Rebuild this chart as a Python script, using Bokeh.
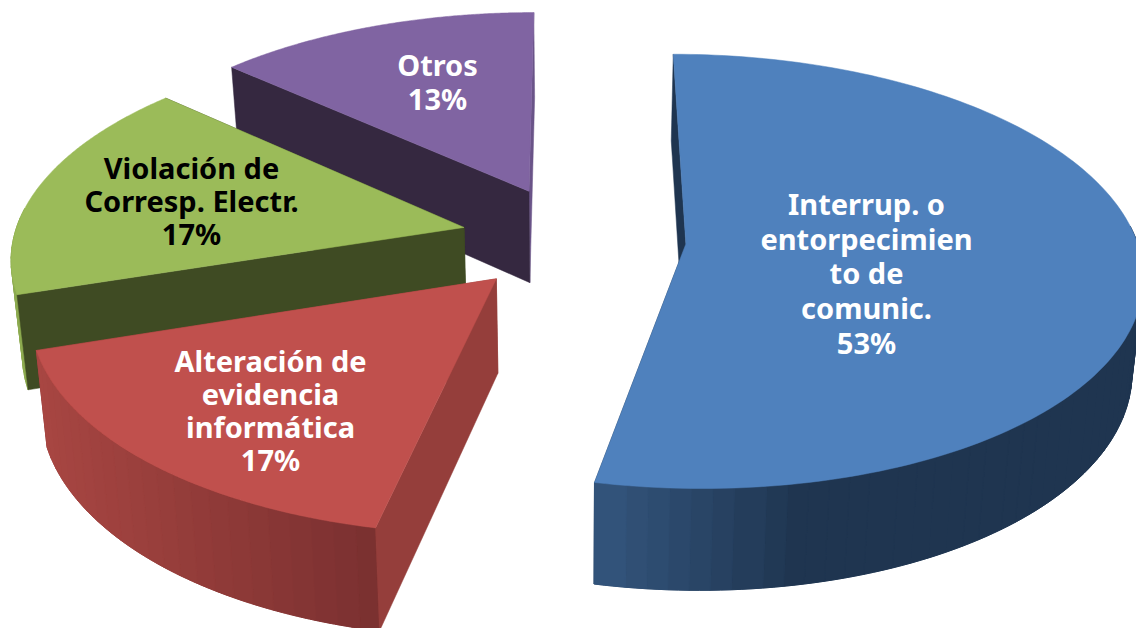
import numpy as np
from bokeh.plotting import figure
from bokeh.embed import file_html
from bokeh.resources import INLINE
from bokeh.core.properties import value

# --- data ---
categories = ["Interrup. o entorpecimiento de comunic.", "Alteración de evidencia informática",
              "Violación de Corresp. Electr.", "Otros"]
values = [16, 5, 5, 4]   # read as counts: 53%, 17%, 17%, 13%
label_lines = [["Interrup. o", "entorpecimien", "to de", "comunic."],
               ["Alteración de", "evidencia", "informática"],
               ["Violación de", "Corresp. Electr."],
               ["Otros"]]

# --- style ---
top_colors = ["#4F81BD", "#C0504D", "#9BBB59", "#8064A2"]
wall_colors = ["#1F3550", "#953E3B", "#3F4B23", "#352840"]
end_wall_colors = ["#1F3550", "#953E3B", "#3F4B23", "#6A5488"]
rim_left = ["#34567E", "#A84642", "#8DAB50", "#6A5488"]
rim_right = ["#1F3550", "#7A3030", "#8DAB50", "#6A5488"]
rim_full_x = [800, 374, 30, 535]
label_colors = ["white", "white", "black", "white"]
label_x = [866, 270, 191, 437]
label_y0 = [203, 360, 167, 64]
line_step = [34.7, 33, 33, 34]
FONT_PX = 29
FONT = "Noto Sans"
STRIPS = 70

# --- projection of a tilted exploded pie onto the picture ---
CX, YV = 573.0, -1449.0
A, C, V0 = 0.267, 7.46e-5, 5.928e-4
EXPLODE = 0.25
SHRINK, D0, D1 = 0.98, 34.0, 0.035


def project(X, Y, bottom=False):
    u = 1.0 / (V0 - C * np.asarray(Y))
    x = CX + A * np.asarray(X) * u
    y = YV + u
    if bottom:
        x = CX + SHRINK * (x - CX)
        y = y + D0 + D1 * u
    return x, y


def hex2rgb(h):
    return np.array([int(h[i:i + 2], 16) for i in (1, 3, 5)], float)


def lerp(c1, c2, t):
    c = hex2rgb(c1) * (1 - t) + hex2rgb(c2) * t
    return "#%02x%02x%02x" % tuple(int(round(v)) for v in c)


p = figure(width=1136, height=628, x_range=(0, 1136), y_range=(628, 0),
           output_backend="svg", toolbar_location=None, min_border=0)
p.axis.visible = False
p.grid.visible = False
p.outline_line_color = None
p.background_fill_color = "white"
p.border_fill_color = "white"

fracs = np.array(values, float) / sum(values)
edges = np.concatenate([[0], np.cumsum(fracs)]) * 2 * np.pi
order = [3, 2, 1, 0]


def radial_wall(i, t, col, ex, ey):
    rx, ry = np.array([ex, ex + np.sin(t)]), np.array([ey, ey - np.cos(t)])
    xa, ya = project(rx, ry)
    xb, yb = project(rx, ry, True)
    p.patch(list(xa) + list(xb[::-1]), list(ya) + list(yb[::-1]),
            fill_color=col, line_color=col, line_width=0.5)


for i in order:
    t0, t1 = edges[i], edges[i + 1]
    mid = (t0 + t1) / 2
    ex, ey = EXPLODE * np.sin(mid), -EXPLODE * np.cos(mid)
    th = np.linspace(t0, t1, 161)
    X = ex + np.sin(th)
    Y = ey - np.cos(th)
    radial_wall(i, t1, end_wall_colors[i], ex, ey)
    # outer rim: a base shape under shaded strips
    xt, yt = project(X, Y)
    xb, yb = project(X, Y, True)
    xmin = xt.min()
    vis = np.where(Y >= ey - 0.05)[0]
    if len(vis):
        a0, b0 = vis[0], vis[-1] + 1
        base = lerp(rim_left[i], rim_right[i], 0.5)
        p.patch(list(xt[a0:b0]) + list(xb[a0:b0][::-1]), list(yt[a0:b0]) + list(yb[a0:b0][::-1]),
                fill_color=base, line_color=base, line_width=0.5)
    n = max(4, int(STRIPS * (t1 - t0) / np.pi))
    idx = np.linspace(0, len(th) - 1, n + 1).astype(int)
    xs, ys, cols = [], [], []
    for a, b in zip(idx[:-1], idx[1:]):
        if Y[b] < ey - 0.05 and Y[a] < ey - 0.05:
            continue
        xm = (xt[a] + xt[b]) / 2
        f = np.clip((xm - xmin) / max(rim_full_x[i] - xmin, 1), 0, 1)
        xs.append(list(xt[a:b + 1]) + list(xb[a:b + 1][::-1]))
        ys.append(list(yt[a:b + 1]) + list(yb[a:b + 1][::-1]))
        cols.append(lerp(rim_left[i], rim_right[i], f))
    if xs:
        p.patches(xs, ys, fill_color=cols, line_color=cols, line_width=1)
    radial_wall(i, t0, wall_colors[i], ex, ey)
    # top face
    ax, ay = project(np.array([ex]), np.array([ey]))
    p.patch([ax[0]] + list(xt), [ay[0]] + list(yt),
            fill_color=top_colors[i], line_color=top_colors[i], line_width=0.5)

# labels
total = sum(values)
for i in range(4):
    lines = label_lines[i] + ["%d%%" % round(100 * values[i] / total)]
    ys = [label_y0[i] + line_step[i] * k for k in range(len(lines))]
    p.text(x=[label_x[i]] * len(lines), y=ys, text=lines, text_color=label_colors[i],
           text_font=value(FONT), text_font_style="bold", text_font_size="%dpx" % FONT_PX,
           text_align="center", text_baseline="alphabetic")

open("out.html", "w").write(file_html(p, INLINE))
